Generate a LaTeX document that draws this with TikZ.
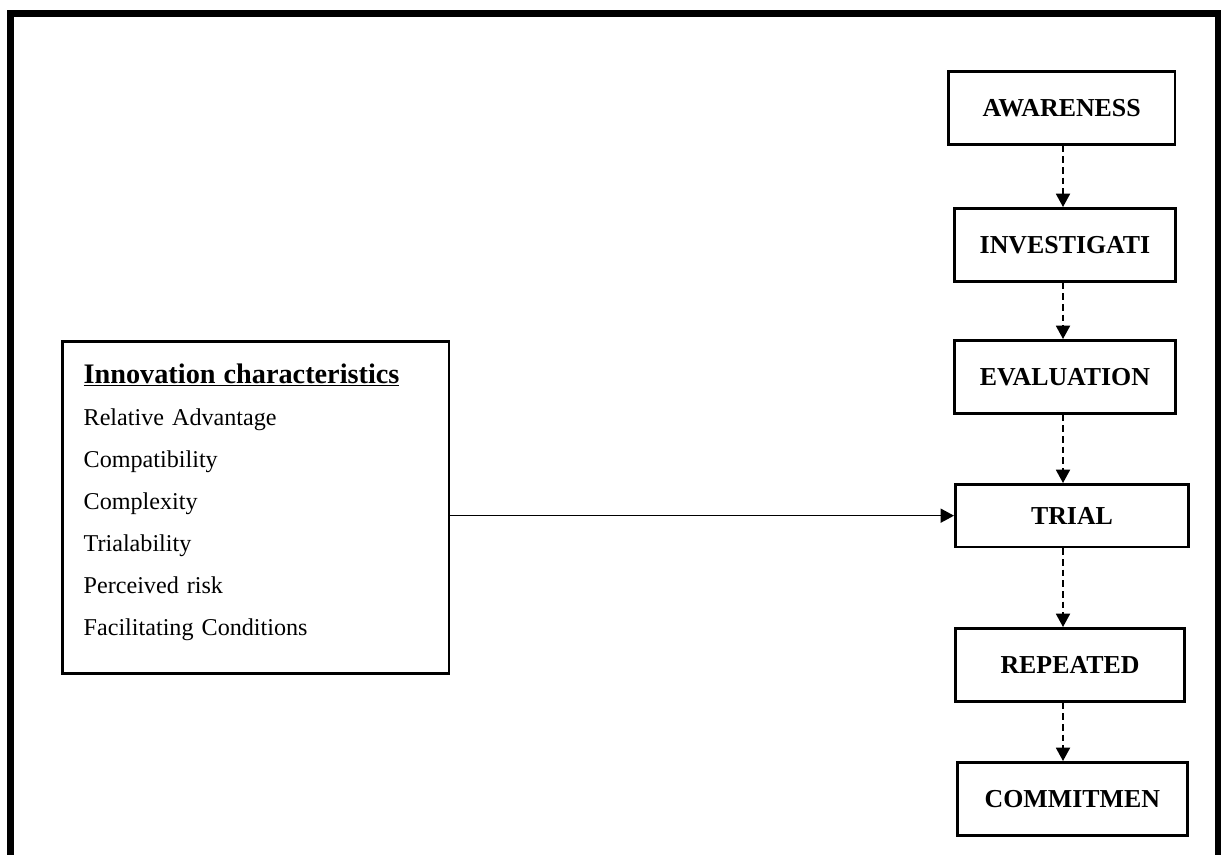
\documentclass[tikz,border=0pt]{standalone}
\usepackage{fontspec}
\setmainfont{Liberation Serif}
\usetikzlibrary{positioning,arrows.meta}

\begin{document}
\begin{tikzpicture}[
    x=0.75pt, y=-0.75pt,
    >={Triangle[width=10.5pt,length=10pt]},
    stagebox/.style={draw, line width=2pt, inner sep=0pt,
                     minimum height=54.75pt, anchor=north west,
                     font=\fontsize{19.4}{22}\selectfont\bfseries},
    charbox/.style ={draw, line width=2pt, anchor=north west,
                     minimum width=290pt, minimum height=249pt,
                     inner xsep=15.75pt, text width=258pt, align=left,
                     font=\fontsize{18.1}{31.5}\selectfont},
    arr/.style ={->, line width=1.1pt},
    darr/.style={arr, line width=1.4pt, dash pattern=on 5pt off 3pt},
]
\useasboundingbox (0,0) rectangle (1221,854);

% outer frame (open at the bottom)
\draw[line width=5.25pt] (10.5,860) -- (10.5,13.5) -- (1218,13.5) -- (1218,860);

% =========================================================
% Right column: adoption stages
% =========================================================
\node[stagebox, minimum width=170pt] (aware)  at (947,70)  {AWARENESS};
\node[stagebox, minimum width=166pt] (invest) at (953,207) {INVESTIGATI};
\node[stagebox, minimum width=166pt] (evalu)  at (953,339) {EVALUATION};
\node[stagebox, minimum width=175pt, minimum height=47pt]
                                     (trial)  at (954,483) {TRIAL};
\node[stagebox, minimum width=172pt] (repeat) at (954,627) {REPEATED};
\node[stagebox, minimum width=172.5pt] (commit) at (956,761) {COMMITMEN};

\coordinate (col) at (1063,0);
\draw[darr] (aware.south -| col)  -- (invest.north -| col);
\draw[darr] (invest.south -| col) -- (evalu.north -| col);
\draw[darr] (evalu.south -| col)  -- (trial.north -| col);
\draw[darr] (trial.south -| col)  -- (repeat.north -| col);
\draw[darr] (repeat.south -| col) -- (commit.north -| col);

% =========================================================
% Left: innovation characteristics
% =========================================================
\node[charbox] (chars) at (61,340)
    {{\fontsize{21.2}{31.5}\selectfont\bfseries\underline{Innovation characteristics}}\\
     Relative Advantage\\
     Compatibility\\
     Complexity\\
     Trialability\\
     Perceived risk\\
     Facilitating Conditions\\[-20pt]\mbox{}};

\draw[arr] (chars.east |- trial.west) -- (trial.west);

\end{tikzpicture}
\end{document}
